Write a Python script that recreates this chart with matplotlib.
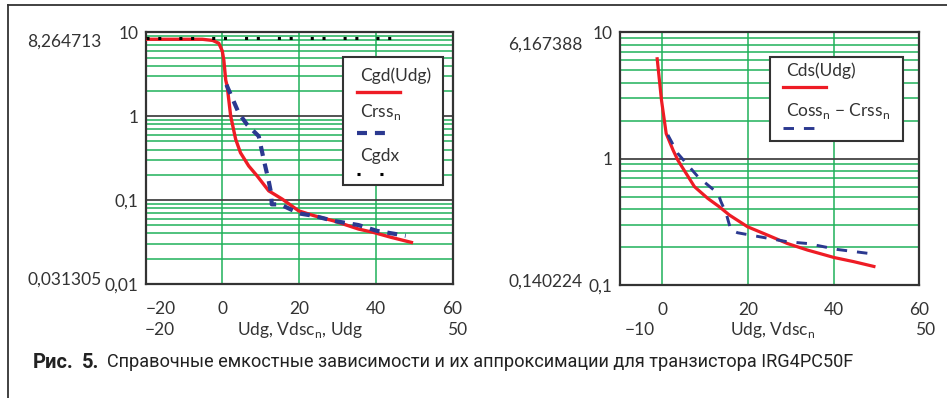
import matplotlib
matplotlib.use("Agg")
import matplotlib.pyplot as plt
from matplotlib.patches import Rectangle
from matplotlib.lines import Line2D

# ---------------- data ----------------
# left chart: Cgd(Udg), Crss_n, Cgdx
udg = [-20, -5.2, -2.5, -0.9, 0, 0.4, 0.9, 1.3, 2.2, 3.5, 4.75, 6.9, 9.1, 12.1,
       15.6, 19.9, 24, 29, 35.5, 39.4, 44, 49.3]
cgd = [8.26, 8.26, 8.0, 7.4, 6.0, 4.7, 2.7, 2.26, 1.0, 0.53, 0.367, 0.255, 0.194,
       0.129, 0.103, 0.0745, 0.065, 0.0566, 0.0452, 0.0412, 0.036, 0.0313]
vdsc = [1.1, 4.3, 6.5, 9.5, 10.8, 12.1, 12.7, 12.9, 15.1, 17.7, 20.3, 23.8, 29,
        35.5, 40.3, 47.8]
crss = [2.37, 1.09, 0.79, 0.578, 0.305, 0.169, 0.123, 0.089, 0.089, 0.078, 0.069,
        0.065, 0.0566, 0.0504, 0.043, 0.0376]
udg_x = [-20, 47]
cgdx = [8.5, 8.5]

# right chart: Cds(Udg), Coss_n - Crss_n
udg2 = [-1.2, -0.2, 0.9, 2.5, 3.6, 7.5, 10.6, 13.3, 15.7, 19.9, 24.6, 29.2, 33.9,
        40.1, 44.7, 49.4]
cds = [6.17, 2.91, 1.58, 1.17, 0.975, 0.6, 0.485, 0.416, 0.357, 0.289, 0.248,
       0.213, 0.189, 0.165, 0.153, 0.1402]
vdsc2 = [1.3, 3.6, 8.3, 13, 13.7, 14.9, 16, 17.6, 21.5, 29.2, 33.9, 40.9, 49.8]
coss_crss = [1.54, 1.1, 0.72, 0.53, 0.456, 0.369, 0.272, 0.259, 0.245, 0.22,
             0.213, 0.191, 0.175]

left_xticks = [-20, 0, 20, 40, 60]
left_yticks = [0.01, 0.1, 1, 10]
left_ylabels = ["0,01", "0,1", "1", "10"]
right_xticks = [0, 20, 40, 60]
right_yticks = [0.1, 1, 10]
right_ylabels = ["0,1", "1", "10"]

# ---------------- style ----------------
W, H = 947, 398
FONT = ["Lato", "DejaVu Sans"]
CAPFONT = ["Roboto", "DejaVu Sans"]
TXT = "#333333"
GREEN = "#1fb15a"
RED = "#ee1c25"
BLUE = "#2b3990"
plt.rcParams["font.family"] = FONT
plt.rcParams["mathtext.fontset"] = "custom"
plt.rcParams["mathtext.rm"] = "Lato"
FS = 12.5

fig = plt.figure(figsize=(W / 100, H / 100), dpi=100)
fig.patch.set_facecolor("white")


def fx(x):
    return x / W


def fy(y):
    return 1 - y / H


def axes_px(x0, y0, x1, y1):
    return fig.add_axes([fx(x0), fy(y1), fx(x1) - fx(x0), (y1 - y0) / H])


def style_axes(ax, xlim, ylim, xt, yt, ylab):
    ax.set_yscale("log")
    ax.set_xlim(*xlim)
    ax.set_ylim(*ylim)
    lo, hi = ylim
    d = lo
    while d < hi:
        for m in range(2, 10):
            ax.axhline(d * m, color=GREEN, lw=1.1, zorder=1)
        if d > lo:
            ax.axhline(d, color="#444444", lw=1.3, zorder=1.5)
        d *= 10
    for x in xt:
        if xlim[0] < x < xlim[1]:
            ax.axvline(x, color=GREEN, lw=1.1, zorder=1)
    ax.set_yticks(yt)
    ax.set_yticklabels(ylab)
    ax.yaxis.set_minor_locator(matplotlib.ticker.NullLocator())
    ax.set_xticks(xt)
    ax.set_xticklabels([("\u2212%d" % -v) if v < 0 else str(v) for v in xt])
    ax.tick_params(axis="y", length=0, pad=5, labelsize=FS, labelcolor=TXT)
    ax.tick_params(axis="x", length=0, pad=12, labelsize=FS, labelcolor=TXT)
    for s in ax.spines.values():
        s.set_color("#333333")
        s.set_linewidth(1.6)
        s.set_zorder(3)


# ---------------- left chart ----------------
ax1 = axes_px(145.5, 32.3, 452.5, 284)
style_axes(ax1, (-20, 60), (0.01, 10), left_xticks, left_yticks, left_ylabels)
ax1.plot(udg, cgd, color=RED, lw=2.4, zorder=4, solid_joinstyle="round")
ax1.plot(vdsc, crss, color=BLUE, lw=3.0, dashes=(2.4, 1.9), zorder=5)
ax1.plot(udg_x, cgdx, color="black", lw=2.2, dashes=(1, 2.85, 1, 5.9),
         dash_capstyle="butt", zorder=5)
ax1.get_xticklabels()[0].set_horizontalalignment("left")

# ---------------- right chart ----------------
ax2 = axes_px(619.5, 32.3, 919.3, 285)
style_axes(ax2, (-10, 60), (0.1, 10), right_xticks, right_yticks, right_ylabels)
ax2.plot(udg2, cds, color=RED, lw=2.3, zorder=4)
ax2.plot(vdsc2, coss_crss, color=BLUE, lw=2.1, dashes=(3.6, 3.4), zorder=5)


# ---------------- extra texts ----------------
def ftext(x, y, s, **kw):
    kw.setdefault("fontsize", FS)
    kw.setdefault("color", TXT)
    kw.setdefault("va", "center")
    return fig.text(fx(x), fy(y), s, **kw)


ftext(27, 42, "8,264713")
ftext(27, 280, "0,031305")
ftext(508, 45, "6,167388")
ftext(508, 282, "0,140224")

ftext(145, 330, "\u221220")
ftext(467, 330, "50", ha="right")
ftext(300, 330, "Udg, Vdsc$_{\\mathrm{n}}$, Udg", ha="center")
ftext(625, 330, "\u221210")
ftext(935, 330, "50", ha="right")
ftext(773, 330, "Udg, Vdsc$_{\\mathrm{n}}$", ha="center")


# ---------------- legends ----------------
def legend_box(x0, y0, x1, y1):
    fig.add_artist(Rectangle((fx(x0), fy(y1)), fx(x1) - fx(x0), (y1 - y0) / H,
                             transform=fig.transFigure, facecolor="white",
                             edgecolor="#333333", lw=1.5, zorder=6))


def legend_line(x0, x1, y, **kw):
    fig.add_artist(Line2D([fx(x0), fx(x1)], [fy(y), fy(y)],
                          transform=fig.transFigure, zorder=7, **kw))


legend_box(343, 57, 443, 185)
ftext(360, 76, "Cgd(Udg)", zorder=7)
legend_line(356.7, 400, 92.3, color=RED, lw=2.4)
ftext(360, 112, "Crss$_{\\mathrm{n}}$", zorder=7)
legend_line(356.7, 391.7, 133.3, color=BLUE, lw=3.0, dashes=(2.4, 1.9))
ftext(360, 156, "Cgdx", zorder=7)
legend_line(357, 383, 174, color="black", lw=2.2, dashes=(1, 6.5),
            dash_capstyle="butt")

legend_box(770, 57.3, 902.7, 141)
ftext(786, 71, "Cds(Udg)", zorder=7)
legend_line(783.3, 826, 87.3, color=RED, lw=2.3)
ftext(786, 111, "Coss$_{\\mathrm{n}}$ \u2212 Crss$_{\\mathrm{n}}$", zorder=7)
legend_line(783.3, 818.3, 128.3, color=BLUE, lw=2.1, dashes=(3.6, 3.4))

# ---------------- frame and caption ----------------
fig.add_artist(Line2D([fx(7.5), fx(947)], [fy(5), fy(5)], transform=fig.transFigure,
                      color="#333333", lw=1.3))
fig.add_artist(Line2D([fx(7.5), fx(7.5)], [fy(5), fy(398)], transform=fig.transFigure,
                      color="#333333", lw=1.3))

ftext(33, 362, "Рис.", family=CAPFONT, fontweight="bold", fontsize=14.5,
      color="#222222")
ftext(82, 362, "5.", family=CAPFONT, fontweight="bold", fontsize=14.5,
      color="#222222")
ftext(107, 362, "Справочные емкостные зависимости и их аппроксимации для транзистора IRG4PC50F",
      family=CAPFONT, fontsize=13.1, color="#222222")

fig.savefig("out.png", dpi=100, facecolor="white")
